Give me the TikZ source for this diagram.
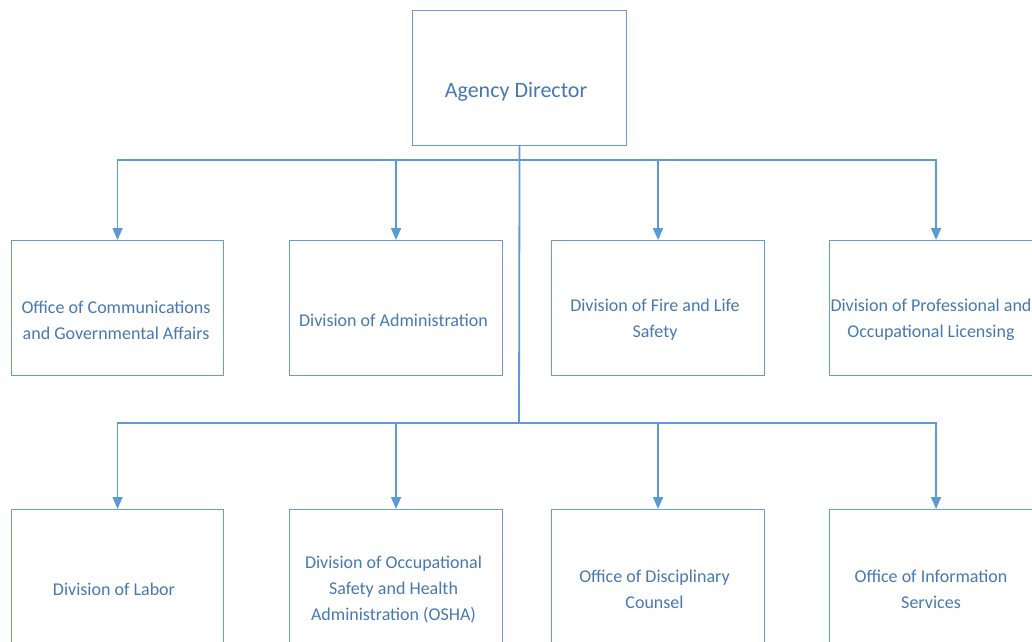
\documentclass[tikz,border=0pt]{standalone}
\usepackage{fontspec}
\setmainfont{Carlito}
\usetikzlibrary{arrows.meta}
\definecolor{ln}{RGB}{91,155,213}
\definecolor{bx}{RGB}{105,155,208}
\definecolor{tx}{RGB}{70,120,178}
\begin{document}
\begin{tikzpicture}[x=1pt,y=-1pt,
  box/.style={draw=bx,line width=1.1pt,minimum width=213pt,minimum height=135pt,inner sep=0pt,anchor=north west},
  lbl/.style={text=tx,font=\fontsize{18}{26}\selectfont,align=center,inner sep=0pt},
  conn/.style={draw=ln,line width=1.8pt},
  arr/.style={conn,-{Triangle[width=10pt,length=12pt]}}]
\useasboundingbox (0,0) rectangle (1032,641);
\clip (0,0) rectangle (1032,641);
% boxes
\node[box,minimum width=214pt] (dir) at (412,10) {};
\node[box,minimum width=212pt] (b1) at (11,240) {};
\node[box] (b2) at (289,240) {};
\node[box] (b3) at (551,240) {};
\node[box] (b4) at (829,240) {};
\node[box,minimum width=212pt] (c1) at (11,509) {};
\node[box] (c2) at (289,509) {};
\node[box] (c3) at (551,509) {};
\node[box] (c4) at (829,509) {};
% labels
\node[lbl,font=\fontsize{22}{26}\selectfont] (tdir) at (516,92) {Agency Director};
\node[lbl] (tb1) at (116,320) {Office of Communications\\and Governmental Affairs};
\node[lbl] (tb2) at (393.5,320) {Division of Administration};
\node[lbl] (tb3) at (655,320) {Division of Fire and Life\\Safety};
\node[lbl] (tb4) at (931,320) {Division of Professional and\\Occupational Licensing};
\node[lbl] (tc1) at (114,589) {Division of Labor};
\node[lbl] (tc2) at (393.5,589) {Division of Occupational\\Safety and Health\\Administration (OSHA)};
\node[lbl] (tc3) at (654.5,589) {Office of Disciplinary\\Counsel};
\node[lbl] (tc4) at (931,589) {Office of Information\\Services};
% connectors
\coordinate (j1) at (519,160);
\coordinate (j2) at (519,423);
\draw[conn] (dir.south) -- (j2);
\foreach \n in {b1,b2,b3,b4} \draw[arr] (j1) -| (\n.north);
\foreach \n in {c1,c2,c3,c4} \draw[arr] (j2) -| (\n.north);
\end{tikzpicture}
\end{document}
